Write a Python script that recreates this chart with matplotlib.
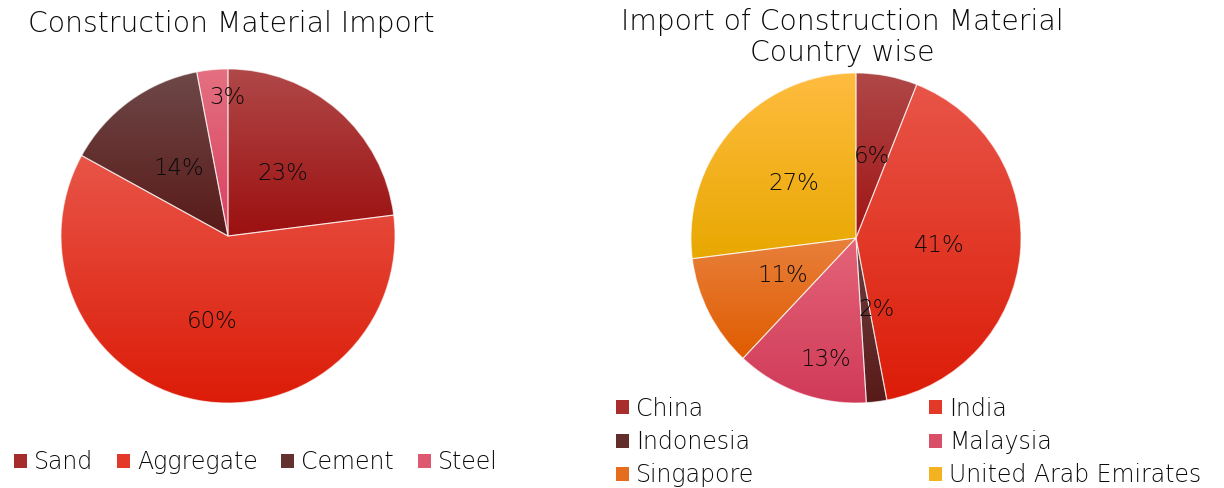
import numpy as np
import matplotlib
matplotlib.use("Agg")
import matplotlib.pyplot as plt
from matplotlib.patches import Patch
from matplotlib.colors import to_rgb

# ---------------- data ----------------
mat_labels = ["Sand", "Aggregate", "Cement", "Steel"]
mat_values = [23, 60, 14, 3]
country_labels = ["China", "India", "Indonesia", "Malaysia", "Singapore", "United Arab Emirates"]
country_values = [6, 41, 2, 13, 11, 27]

title_left = "Construction Material Import"
title_right_1 = "Import of Construction Material"
title_right_2 = "Country wise"

# ---------------- style ----------------
mat_grad = [("#b04848", "#9c1010"), ("#e85548", "#dc1c08"),
            ("#6e4848", "#581a18"), ("#e47080", "#d84060")]
country_grad = [("#b04848", "#a01414"), ("#e85548", "#dc1c08"),
                ("#6e4040", "#581a18"), ("#e46478", "#d03a58"),
                ("#e8803c", "#e05c00"), ("#ffbc40", "#e8a800")]
mat_pctdist = [0.5, 0.52, 0.5, 0.83]
mat_angshift = [0, 0, 0, -5]
country_pctdist = [0.5, 0.51, 0.45, 0.76, 0.5, 0.5]
country_angshift = [0, 0, 8.5, 6, 0, 0]

plt.rcParams["font.family"] = ["DejaVu Sans"]
plt.rcParams["font.weight"] = 200
TXT = "#0a0a0a"
FS = 16.5
LFS = 17

W, H = 1224, 488
fig = plt.figure(figsize=(W / 100, H / 100), dpi=100)


def px_axes(cx, cy, r):
    return fig.add_axes([(cx - r) / W, (H - cy - r) / H, 2 * r / W, 2 * r / H])


def mid(c1, c2):
    a, b = np.array(to_rgb(c1)), np.array(to_rgb(c2))
    return tuple((a + b) / 2)


def draw_pie(ax, values, grads, dists, shifts):
    wedges, _ = ax.pie(values, startangle=90, counterclock=False, radius=1,
                       wedgeprops=dict(edgecolor=(1, 1, 1, 0.6), linewidth=0.8))
    t = np.linspace(0, 1, 256)[:, None, None]
    total = float(sum(values))
    for w, (ctop, cbot), v, d, s in zip(wedges, grads, values, dists, shifts):
        bb = w.get_path().get_extents()
        top = np.array(to_rgb(ctop))[None, None, :]
        bot = np.array(to_rgb(cbot))[None, None, :]
        img = bot * (1 - t) + top * t
        im = ax.imshow(img, extent=[bb.x0, bb.x1, bb.y0, bb.y1], origin="lower",
                       aspect="auto", zorder=1, interpolation="bilinear")
        im.set_clip_path(w)
        w.set_facecolor("none")
        w.set_zorder(2)
        ang = np.deg2rad((w.theta1 + w.theta2) / 2 + s)
        ax.text(d * np.cos(ang), d * np.sin(ang), f"{v / total * 100:.0f}%",
                ha="center", va="center", fontsize=FS, color=TXT, zorder=3)
    ax.set_xlim(-1, 1)
    ax.set_ylim(-1, 1)
    ax.set_aspect("auto")
    ax.axis("off")


ax1 = px_axes(228, 236, 167)
draw_pie(ax1, mat_values, mat_grad, mat_pctdist, mat_angshift)
ax2 = px_axes(856, 238, 165)
draw_pie(ax2, country_values, country_grad, country_pctdist, country_angshift)

fig.text(231 / W, 1 - 24 / H, title_left, ha="center", va="center",
         fontsize=20.3, color=TXT)
fig.text(842 / W, 1 - 22 / H, title_right_1, ha="center", va="center",
         fontsize=20.3, color=TXT)
fig.text(842 / W, 1 - 53 / H, title_right_2, ha="center", va="center",
         fontsize=20.3, color=TXT)

# legends
common = dict(frameon=False, fontsize=LFS, handlelength=0.55, handleheight=0.55,
              handletextpad=0.3, borderpad=0, borderaxespad=0, labelcolor=TXT)
h1 = [Patch(facecolor=mid(*g), edgecolor="none") for g in mat_grad]
fig.legend(h1, mat_labels, loc="center left", bbox_to_anchor=(14 / W, 1 - 462 / H),
           ncol=4, columnspacing=1.0, **common)

h2 = [Patch(facecolor=mid(*g), edgecolor="none") for g in country_grad]
order = [0, 2, 4, 1, 3, 5]
fig.legend([h2[i] for i in order], [country_labels[i] for i in order],
           loc="center left", bbox_to_anchor=(616 / W, 1 - 442 / H),
           ncol=2, columnspacing=7.4, labelspacing=0.4, **common)

fig.savefig("out.png", dpi=100)
